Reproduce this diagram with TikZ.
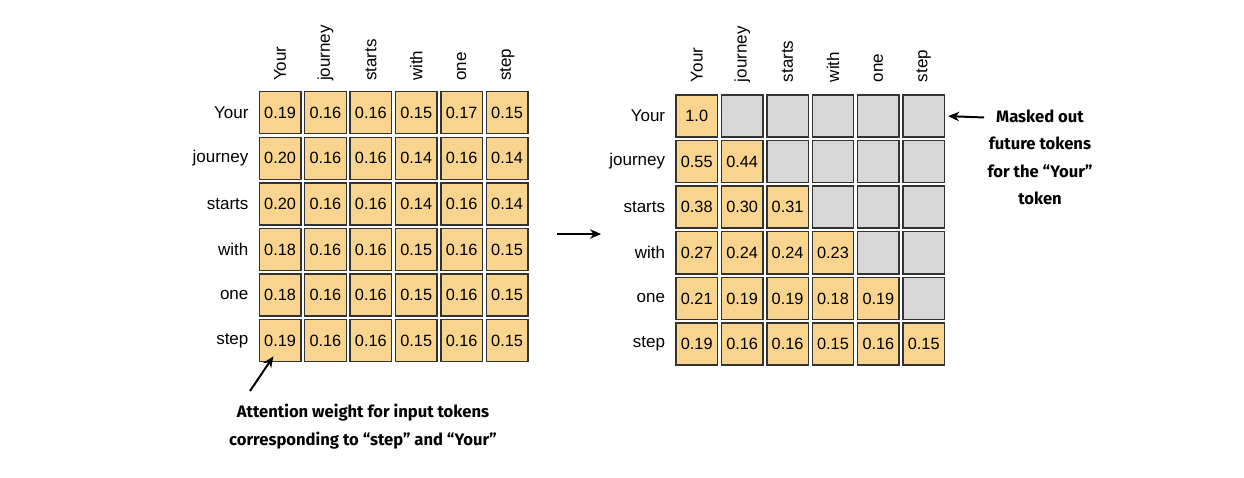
\documentclass[tikz,border=0pt]{standalone}
\usepackage{fontspec}
\setmainfont{Liberation Sans}
\newfontfamily\annfont{Fira Sans}
\usetikzlibrary{arrows.meta}
\definecolor{cellfill}{HTML}{F8D48E}
\definecolor{maskfill}{HTML}{D7D7D7}
\definecolor{cellline}{HTML}{333333}
\begin{document}
\begin{tikzpicture}[x=1pt,y=-1pt,
  cell/.style={draw=cellline, line width=1.4pt, fill=cellfill, minimum width=41.5pt, minimum height=42pt, inner sep=0pt, font=\fontsize{16.3}{16}\selectfont},
  maskcell/.style={cell, fill=maskfill},
  rowlab/.style={anchor=east, inner sep=0pt, font=\fontsize{17}{17}\selectfont},
  collab/.style={rotate=90, anchor=west, inner sep=0pt, font=\fontsize{17}{17}\selectfont},
  ann/.style={font=\annfont\bfseries\fontsize{16.6}{27.5}\selectfont, align=center, inner sep=0pt},
  arr/.style={line width=2pt, -{Stealth[length=11pt,width=9.5pt]}}]
\useasboundingbox (0,0) rectangle (1244,478);
\def\xx{x}
% left grid
\foreach \row [count=\r] in {{0.19,0.16,0.16,0.15,0.17,0.15},{0.20,0.16,0.16,0.14,0.16,0.14},{0.20,0.16,0.16,0.14,0.16,0.14},{0.18,0.16,0.16,0.15,0.16,0.15},{0.18,0.16,0.16,0.15,0.16,0.15},{0.19,0.16,0.16,0.15,0.16,0.15}}{
  \foreach \v [count=\c] in \row {
    \node[cell] (L-\r-\c) at ({280.05+(\c-1)*45.4},{112.7+(\r-1)*45.6}) {\v};
  }
}
% right grid
\foreach \row [count=\r] in {{1.0,x,x,x,x,x},{0.55,0.44,x,x,x,x},{0.38,0.30,0.31,x,x,x},{0.27,0.24,0.24,0.23,x,x},{0.21,0.19,0.19,0.18,0.19,x},{0.19,0.16,0.16,0.15,0.16,0.15}}{
  \foreach \v [count=\c] in \row {
    \ifx\v\xx
      \node[maskcell] (R-\r-\c) at ({696.75+(\c-1)*45.4},{116+(\r-1)*45.6}) {};
    \else
      \node[cell] (R-\r-\c) at ({696.75+(\c-1)*45.4},{116+(\r-1)*45.6}) {\v};
    \fi
  }
}
% labels
\foreach \w [count=\i] in {Your,journey,starts,with,one,step}{
  \node[rowlab] (LR-\i) at ([xshift=-10pt]L-\i-1.west) {\w};
  \node[rowlab] (RR-\i) at ([xshift=-10pt]R-\i-1.west) {\w};
  \node[collab] (LC-\i) at ([yshift=10pt]L-1-\i.north) {\w};
  \node[collab] (RC-\i) at ([yshift=12pt]R-1-\i.north) {\w};
}
% middle arrow
\coordinate (mA) at (557,234);
\coordinate (mB) at (601,234);
\draw[arr] (mA) -- (mB);
% masked annotation
\node[ann] (mask) at (1040,157.5) {Masked out\\future tokens\\for the “Your”\\token};
\coordinate (mtail) at (984,117.5);
\draw[arr, shorten >=3pt] (mtail) -- (R-1-6.east);
% bottom annotation
\node[ann] (attn) at (363,426.5) {Attention weight for input tokens\\corresponding to “step” and “Your”};
\coordinate (atail) at (250,391);
\draw[arr] (atail) -- ([xshift=-6.7pt,yshift=-15.7pt]L-6-1.center);
\end{tikzpicture}
\end{document}
